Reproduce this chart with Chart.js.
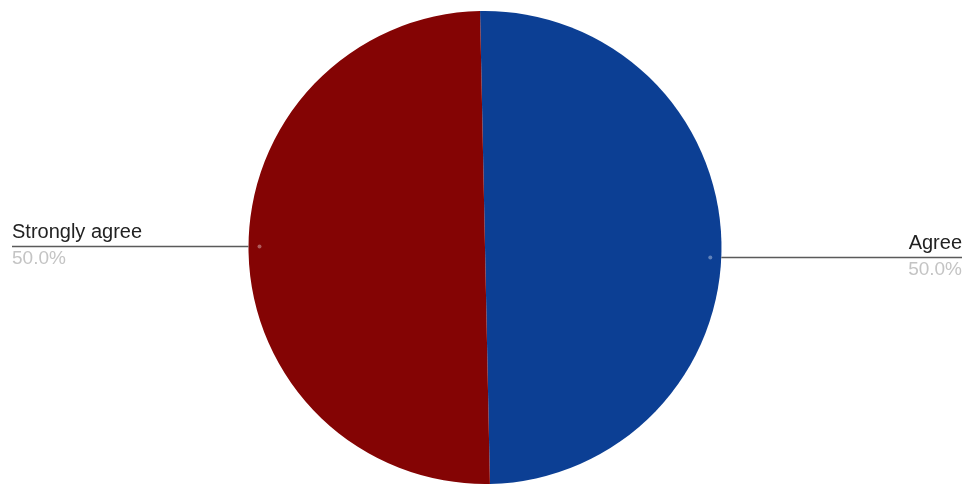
<!DOCTYPE html>
<html lang="en">
<head>
    <meta charset="UTF-8">
    <title>Agreement Pie</title>
    <script src="https://cdn.jsdelivr.net/npm/chart.js"></script>
    <style>
        html, body { margin: 0; padding: 0; background: #fff; }
        .chart-container { position: relative; width: 965px; height: 487px; }
    </style>
</head>
<body>
    <div class="chart-container">
        <canvas id="pieChart"></canvas>
    </div>
    <script>
        // Data
        const labels = ['Agree', 'Strongly agree'];
        const values = [50, 50];
        const colors = ['#0c3f94', '#840404'];

        // Leader lines with label + percentage, drawn at the edge of the canvas
        const leaderLabels = {
            id: 'leaderLabels',
            afterDatasetsDraw(chart, args, opts) {
                const ctx = chart.ctx;
                const meta = chart.getDatasetMeta(0);
                const total = values.reduce((a, b) => a + b, 0);
                ctx.save();
                meta.data.forEach((arc, i) => {
                    const mid = (arc.startAngle + arc.endAngle) / 2;
                    const right = Math.cos(mid) > 0;
                    const y = arc.y + (right ? opts.rightDy : opts.leftDy);
                    const dx = Math.sqrt(Math.max(arc.outerRadius ** 2 - (y - arc.y) ** 2, 0));
                    const edgeX = right ? arc.x + dx : arc.x - dx;
                    const endX = right ? chart.width - opts.rightMargin : opts.leftMargin;

                    ctx.strokeStyle = '#5a5a5a';
                    ctx.lineWidth = 1.6;
                    ctx.beginPath();
                    ctx.moveTo(edgeX, y);
                    ctx.lineTo(endX, y);
                    ctx.stroke();

                    // faint dot just inside the slice
                    ctx.fillStyle = 'rgba(255,255,255,0.35)';
                    ctx.beginPath();
                    ctx.arc(right ? edgeX - 11 : edgeX + 11, y, 2, 0, Math.PI * 2);
                    ctx.fill();

                    ctx.textAlign = right ? 'right' : 'left';
                    ctx.font = '20px "Liberation Sans", Arial, sans-serif';
                    ctx.fillStyle = '#222';
                    ctx.textBaseline = 'alphabetic';
                    ctx.fillText(labels[i], endX, y - 9);
                    ctx.font = '19px "Liberation Sans", Arial, sans-serif';
                    ctx.fillStyle = '#c4c4c4';
                    ctx.fillText((values[i] / total * 100).toFixed(1) + '%', endX, y + 17);
                });
                ctx.restore();
            }
        };

        new Chart(document.getElementById('pieChart'), {
            type: 'pie',
            data: {
                labels: labels,
                datasets: [{
                    data: values,
                    backgroundColor: colors,
                    borderWidth: 0
                }]
            },
            options: {
                responsive: true,
                maintainAspectRatio: false,
                animation: false,
                rotation: -1.2,
                layout: { padding: { top: 11, bottom: 3, left: 5, right: 0 } },
                plugins: {
                    legend: { display: false },
                    tooltip: { enabled: false },
                    leaderLabels: { leftDy: -1, rightDy: 10, leftMargin: 12, rightMargin: 3 }
                }
            },
            plugins: [leaderLabels]
        });
    </script>
</body>
</html>
